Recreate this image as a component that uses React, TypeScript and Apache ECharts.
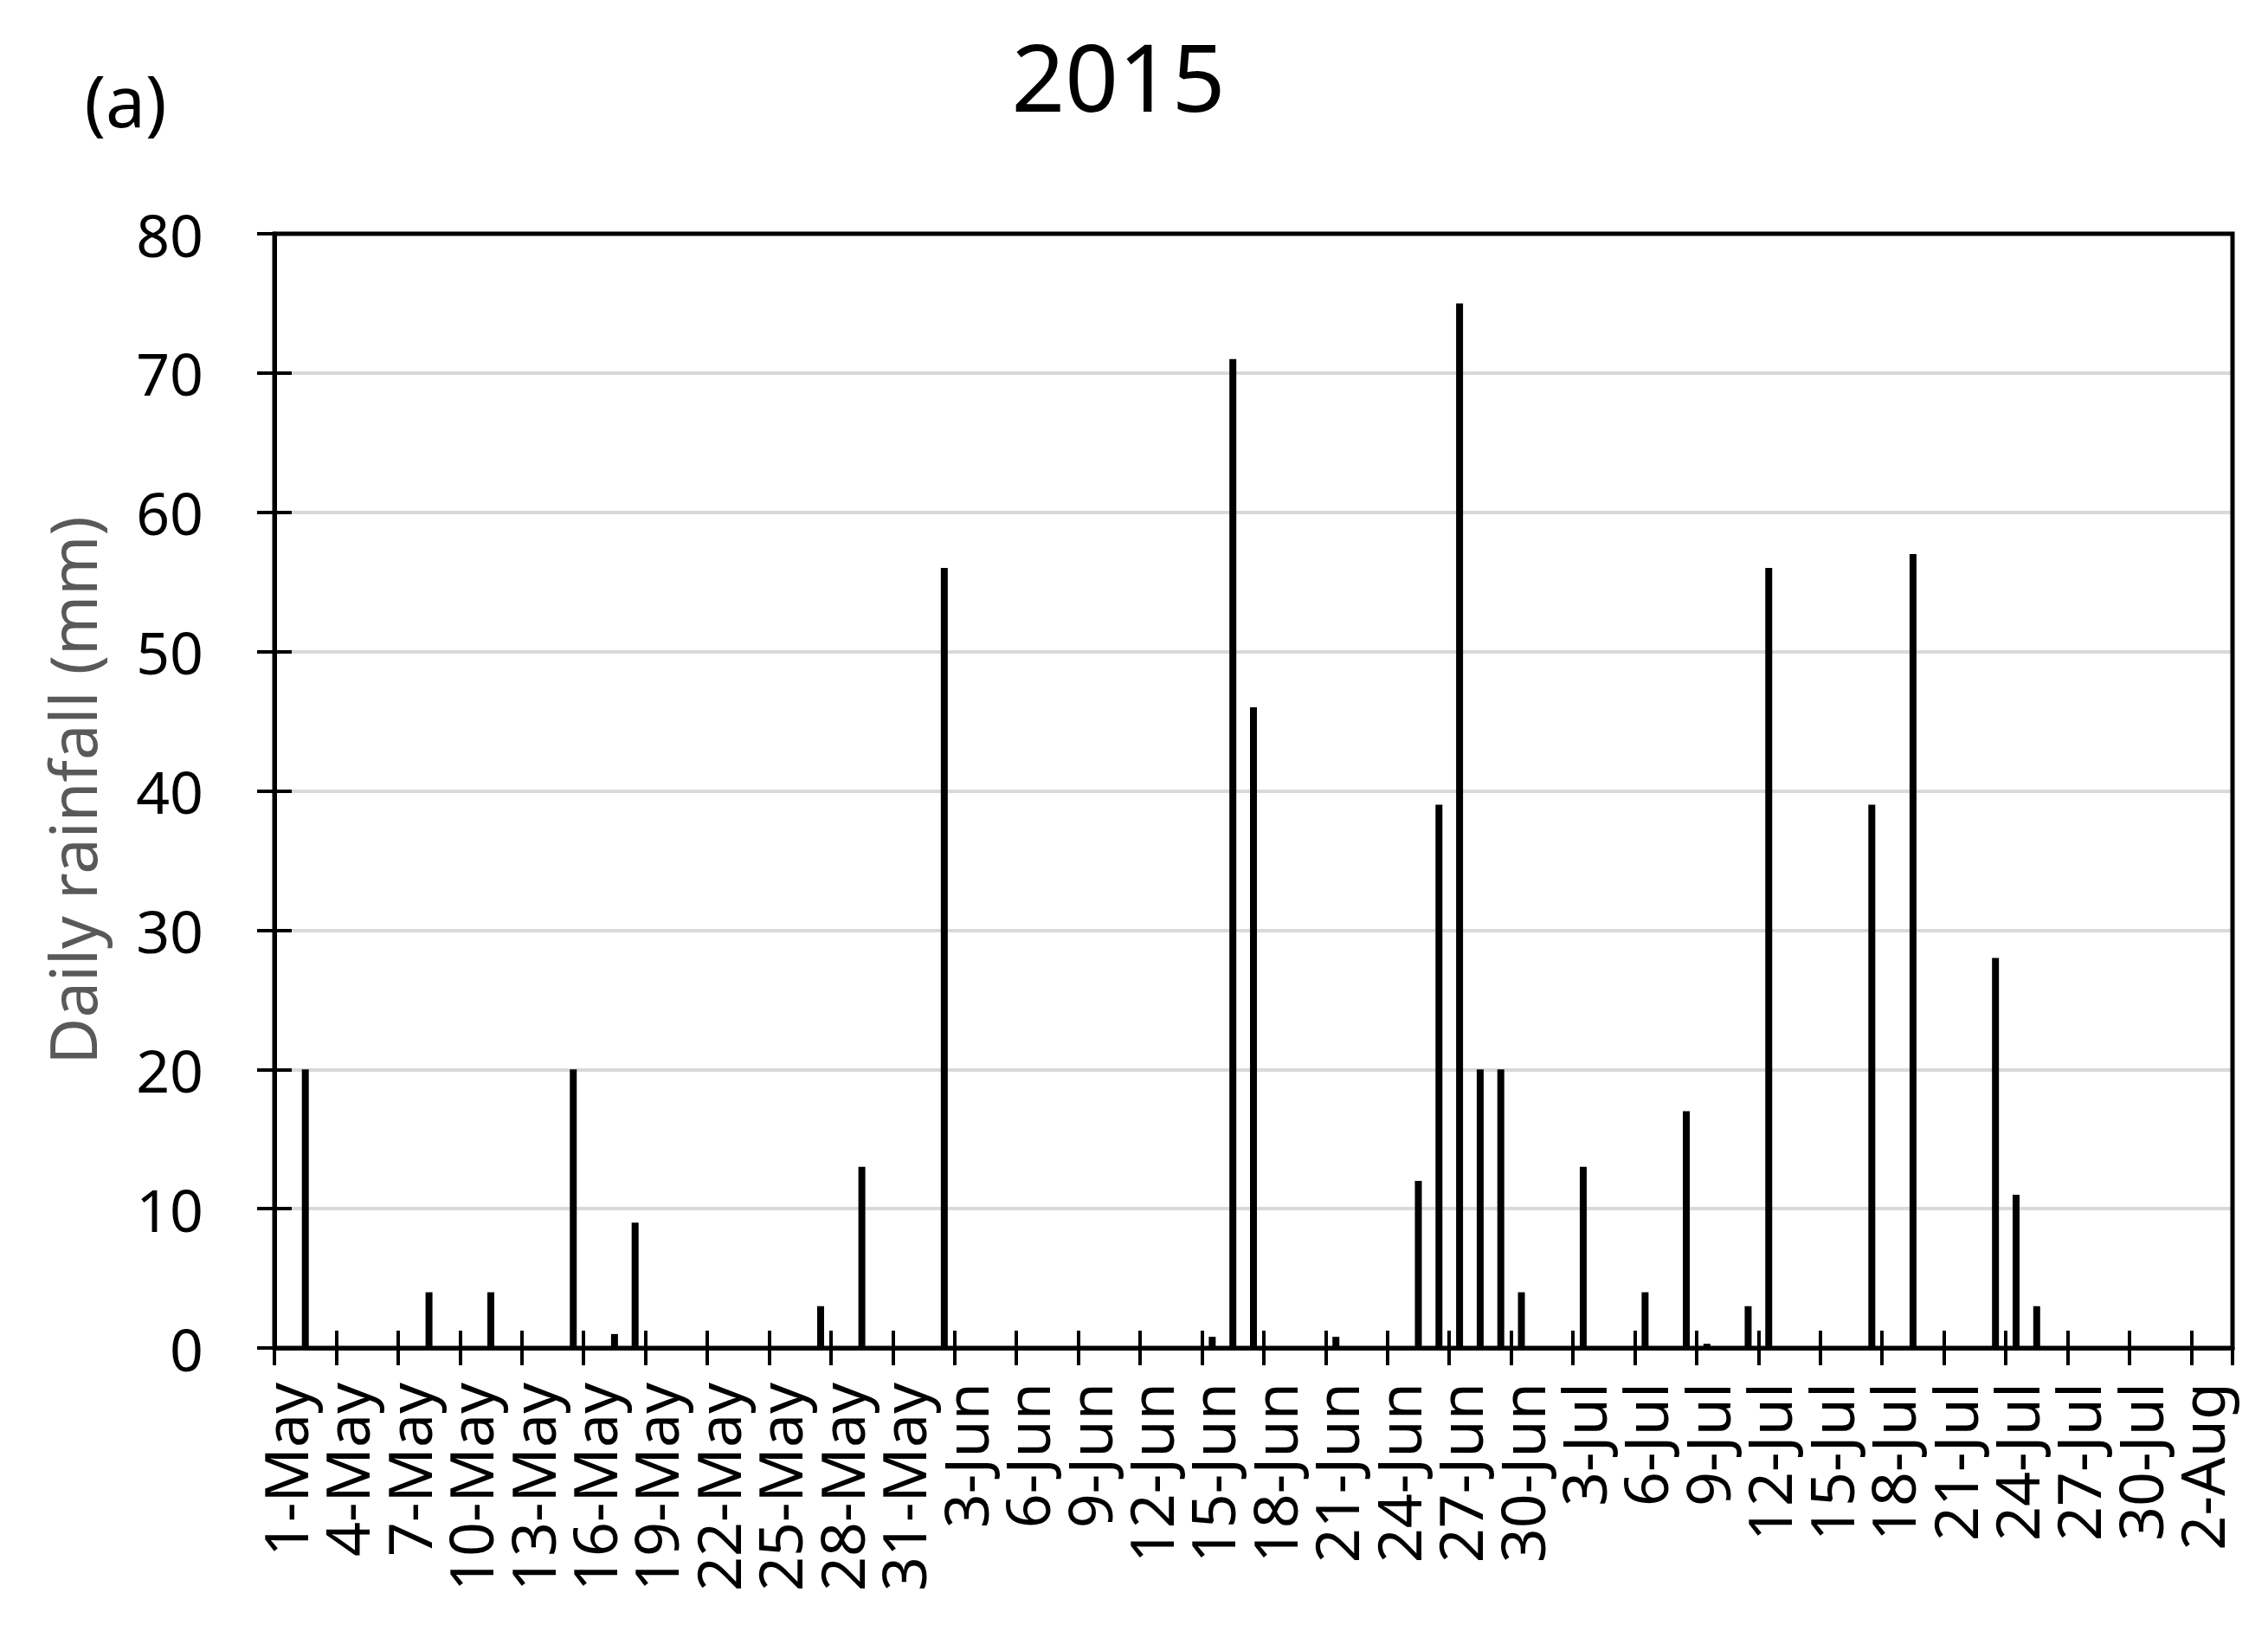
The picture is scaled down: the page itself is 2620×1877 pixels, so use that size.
import React, { useEffect, useRef } from 'react';
import * as echarts from 'echarts';

// Month names and number of days shown on the category axis (1-May .. 3-Aug)
const monthNames = ['May', 'Jun', 'Jul', 'Aug'];
const monthDays = [31, 30, 31, 3];
const categories: string[] = [];
monthNames.forEach((m, i) => {
  for (let d = 1; d <= monthDays[i]; d++) categories.push(`${d}-${m}`);
});

// Rain days and daily rainfall (mm)
const rainDates = [
  '2-May', '8-May', '11-May', '15-May', '17-May', '18-May', '27-May', '29-May',
  '2-Jun', '15-Jun', '16-Jun', '17-Jun', '21-Jun', '25-Jun', '26-Jun', '27-Jun',
  '28-Jun', '29-Jun', '30-Jun',
  '3-Jul', '6-Jul', '8-Jul', '9-Jul', '11-Jul', '12-Jul', '17-Jul', '19-Jul',
  '23-Jul', '24-Jul', '25-Jul',
];
const rainValues = [
  20, 4, 4, 20, 1, 9, 3, 13,
  56, 0.8, 71, 46, 0.8, 12, 39, 75,
  20, 20, 4,
  13, 4, 17, 0.3, 3, 56, 39, 57,
  28, 11, 3,
];

const yMin = 0;
const yMax = 80;
const yInterval = 10;

const titleText = '2015';
const panelText = '(a)';
const yAxisTitle = 'Daily rainfall (mm)';

const FONT = '"Noto Sans", "DejaVu Sans", sans-serif';

export default function App() {
  const ref = useRef<HTMLDivElement>(null);

  useEffect(() => {
    if (!ref.current) return;
    const chart = echarts.init(ref.current, undefined, { renderer: 'svg' });
    const seriesData = categories.map((c) => {
      const k = rainDates.indexOf(c);
      return k >= 0 ? rainValues[k] : null;
    });
    const tickStyle = { color: '#000', width: 4 };
    const option: any = {
      animation: false,
      backgroundColor: '#ffffff',
      grid: {
        left: 317,
        right: 41,
        top: 270,
        bottom: 320,
        show: true,
        borderColor: '#000',
        borderWidth: 5,
        backgroundColor: 'transparent',
        z: 5,
      },
      xAxis: [
        {
          type: 'category',
          data: categories,
          boundaryGap: true,
          axisLine: { show: true, lineStyle: { color: '#000', width: 5 } },
          axisTick: { show: true, interval: 2, length: 20, lineStyle: tickStyle },
          axisLabel: {
            interval: 2,
            rotate: 90,
            margin: 40,
            fontSize: 70,
            fontFamily: FONT,
            color: '#000',
          },
          splitLine: { show: false },
        },
        {
          type: 'category',
          data: categories,
          boundaryGap: true,
          position: 'bottom',
          gridIndex: 0,
          axisLine: { show: false },
          axisTick: { show: true, inside: true, interval: 2, length: 20, lineStyle: tickStyle },
          axisLabel: { show: false },
          splitLine: { show: false },
        },
      ],
      yAxis: [
        {
          type: 'value',
          min: yMin,
          max: yMax,
          interval: yInterval,
          axisLine: { show: true, lineStyle: { color: '#000', width: 5 } },
          axisTick: { show: true, length: 20, lineStyle: tickStyle },
          axisLabel: { margin: 82, fontSize: 68, fontFamily: FONT, color: '#000' },
          splitLine: {
            show: true,
            showMinLine: false,
            showMaxLine: false,
            lineStyle: { color: '#d9d9d9', width: 4 },
          },
        },
        {
          type: 'value',
          min: yMin,
          max: yMax,
          interval: yInterval,
          position: 'left',
          axisLine: { show: false },
          axisTick: { show: true, inside: true, length: 20, lineStyle: tickStyle },
          axisLabel: { show: false },
          splitLine: { show: false },
        },
      ],
      series: [
        {
          type: 'bar',
          data: seriesData,
          xAxisIndex: 0,
          yAxisIndex: 0,
          barWidth: 8,
          itemStyle: { color: '#000' },
        },
      ],
      graphic: [
        {
          type: 'text',
          x: 1292,
          y: 87,
          style: {
            text: titleText,
            font: `108px ${FONT}`,
            fill: '#000',
            align: 'center',
            verticalAlign: 'middle',
          },
        },
        {
          type: 'text',
          x: 145,
          y: 115,
          style: {
            text: panelText,
            font: `82px ${FONT}`,
            fill: '#000',
            align: 'center',
            verticalAlign: 'middle',
          },
        },
        {
          type: 'text',
          x: 83,
          y: 913,
          rotation: Math.PI / 2,
          style: {
            text: yAxisTitle,
            font: `74px ${FONT}`,
            fill: '#595959',
            align: 'center',
            verticalAlign: 'middle',
          },
        },
      ],
    };
    chart.setOption(option);
    return () => chart.dispose();
  }, []);

  return (
    <div
      ref={ref}
      style={{ position: 'absolute', left: 0, top: 0, width: 2620, height: 1877 }}
    />
  );
}
